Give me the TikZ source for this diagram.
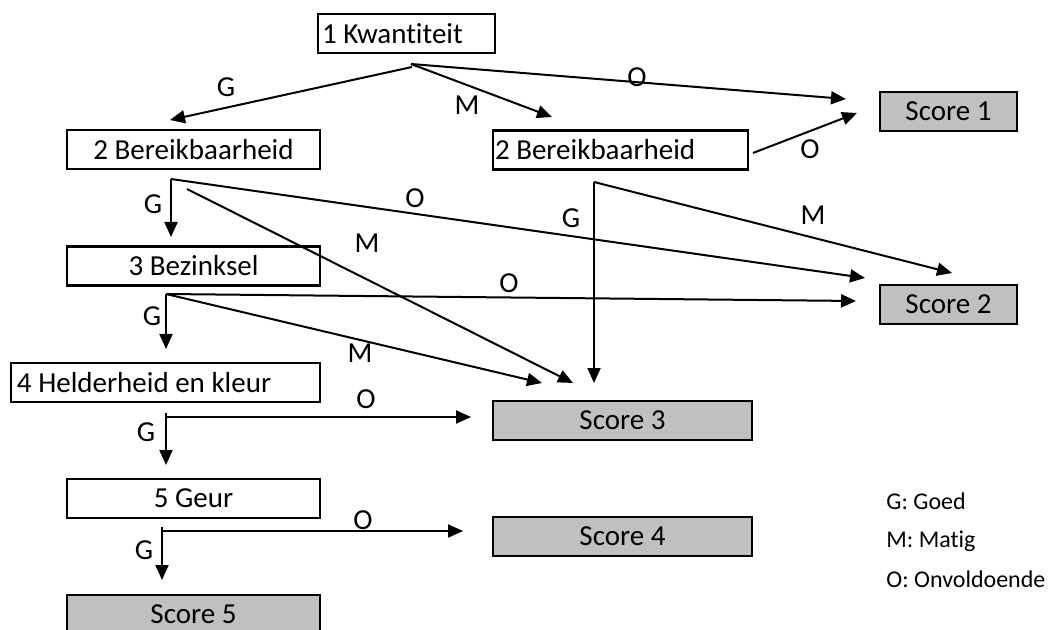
\documentclass[tikz,border=0pt]{standalone}
\usepackage{fontspec}
\setmainfont{Carlito}[Ligatures=NoCommon]
\usetikzlibrary{arrows.meta}
\definecolor{scoregray}{RGB}{192,192,192}

\begin{document}
\begin{tikzpicture}[x=0.5pt, y=-0.5pt,
  font=\fontsize{14.5}{17}\selectfont,
  stap/.style={draw, line width=1.3pt, minimum height=19.5pt, inner sep=0pt},
  score/.style={stap, fill=scoregray},
  pijl/.style={line width=1pt, -{Triangle[length=7.5pt, width=6.5pt]}},
  lbl/.style={inner sep=0pt}]
  \useasboundingbox (0,0) rectangle (1048,630);

  % vragen
  \node[stap, inner xsep=2pt, text width=84.5pt, align=flush left] (KW) at (406.5,33.5) {1 Kwantiteit};
  \node[stap, minimum width=126.5pt] (BA) at (193.5,149.5) {2 Bereikbaarheid};
  \node[stap, inner xsep=1pt, text width=125.5pt, align=flush left] (BB) at (620.5,150) {2 Bereikbaarheid};
  \node[stap, minimum width=126.5pt] (BZ) at (193.5,266) {3 Bezinksel};
  \node[stap, inner xsep=3pt, text width=148.5pt, align=flush left] (HK) at (165.5,382.5) {4 Helderheid en kleur};
  \node[stap, minimum width=126.5pt] (GE) at (193.5,498.5) {5 Geur};

  % scores
  \node[score, minimum width=68.5pt] (S1) at (948.5,111.5) {Score 1};
  \node[score, minimum width=68.5pt] (S2) at (948.5,304.5) {Score 2};
  \node[score, minimum width=129.5pt] (S3) at (622.5,420.5) {Score 3};
  \node[score, minimum width=129.5pt] (S4) at (622.5,536.5) {Score 4};
  \node[score, minimum width=126.5pt] (S5) at (193.5,614.5) {Score 5};

  % begin- en eindpunten van de pijlen
  \coordinate (kw) at (411,64);
  \coordinate (kwG) at (412,67);
  \coordinate (ba) at (171,179);
  \coordinate (baM) at (187,189);
  \coordinate (bb) at (594,182);
  \coordinate (bbO) at (753,153);
  \coordinate (bz) at (166,294);
  \coordinate (hk) at (166,413);
  \coordinate (hkO) at (166,417);
  \coordinate (ge) at (162,527);
  \coordinate (geO) at (162,531);

  \coordinate (tBA) at (170,120);
  \coordinate (tBB) at (552,117);
  \coordinate (tS1a) at (846,99);
  \coordinate (tS1b) at (857,113);
  \coordinate (tS2a) at (865,278);
  \coordinate (tS2b) at (952,273);
  \coordinate (tS2c) at (856,301);
  \coordinate (tS3a) at (573,383);
  \coordinate (tS3b) at (542,383);
  \coordinate (tS3c) at (594,383);
  \coordinate (tS3d) at (471,417);
  \coordinate (tS4) at (463,531);
  \coordinate (tBZ) at (171,237);
  \coordinate (tHK) at (166,349);
  \coordinate (tGE) at (166,465);
  \coordinate (tS5) at (162,580);

  \draw[pijl] (kwG) -- (tBA) ;
  \draw[pijl] (kw) -- (tBB) ;
  \draw[pijl] (kw) -- (tS1a) ;
  \draw[pijl] (bbO) -- (tS1b) ;
  \draw[pijl] (ba) -- (tBZ) ;
  \draw[pijl] (ba) -- (tS2a) ;
  \draw[pijl] (baM) -- (tS3a) ;
  \draw[pijl] (bb) -- (tS3c) ;
  \draw[pijl] (bb) -- (tS2b) ;
  \draw[pijl] (bz) -- (tHK) ;
  \draw[pijl] (bz) -- (tS2c) ;
  \draw[pijl] (bz) -- (tS3b) ;
  \draw[pijl] (hk) -- (tGE) ;
  \draw[pijl] (hkO) -- (tS3d) ;
  \draw[pijl] (ge) -- (tS5) ;
  \draw[pijl] (geO) -- (tS4) ;

  % letters bij de pijlen
  \node[lbl] (L1) at (226,87) {G};
  \node[lbl] (L2) at (467,105) {M};
  \node[lbl] (L3) at (637,77) {O};
  \node[lbl] (L4) at (810,149) {O};
  \node[lbl] (L5) at (153,204) {G};
  \node[lbl] (L6) at (415,198) {O};
  \node[lbl] (L7) at (367,243) {M};
  \node[lbl] (L8) at (571,218) {G};
  \node[lbl] (L9) at (813,215) {M};
  \node[lbl] (L10) at (509,283) {O};
  \node[lbl] (L11) at (152,316) {G};
  \node[lbl] (L12) at (360,353) {M};
  \node[lbl] (L13) at (366,399) {O};
  \node[lbl] (L14) at (146,432) {G};
  \node[lbl] (L15) at (363,520) {O};
  \node[lbl] (L16) at (144,550) {G};

  % legenda
  \node[lbl, anchor=base west, font=\fontsize{12}{14}\selectfont] (LG) at (886,509) {G: Goed};
  \node[lbl, anchor=base west, font=\fontsize{12}{14}\selectfont] (LM) at (886,547) {M: Matig};
  \node[lbl, anchor=base west, font=\fontsize{12}{14}\selectfont] (LO) at (886,587) {O: Onvoldoende};
\end{tikzpicture}
\end{document}
